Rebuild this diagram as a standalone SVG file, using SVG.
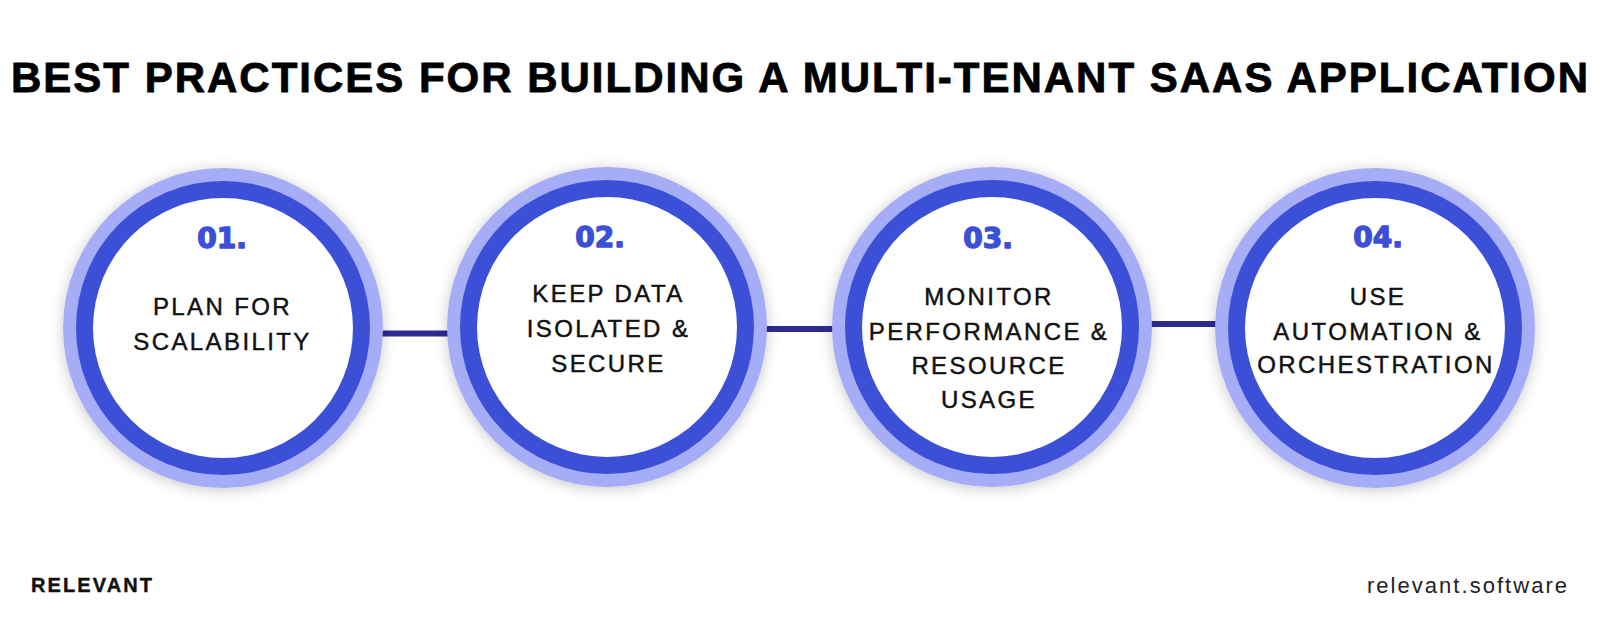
<svg xmlns="http://www.w3.org/2000/svg" width="1600" height="617" viewBox="0 0 1600 617">
  <defs>
    <filter id="shadow" x="-20%" y="-20%" width="140%" height="140%">
      <feGaussianBlur in="SourceAlpha" stdDeviation="7"/>
      <feOffset dx="0" dy="2" result="b"/>
      <feFlood flood-color="#000" flood-opacity="0.22"/>
      <feComposite in2="b" operator="in"/>
      <feMerge><feMergeNode/><feMergeNode in="SourceGraphic"/></feMerge>
    </filter>
    <style>
      .outer { fill: #a5adf6; }
      .ring { fill: #3c4fd7; }
      .inner { fill: #ffffff; }
      .num { font-family: "DejaVu Sans", "Liberation Sans", sans-serif; font-weight: 700; font-size: 28px; fill: #3c4fd7; text-anchor: middle; stroke: #3c4fd7; stroke-width: 1.4px; stroke-linejoin: round; }
      .lbl { font-family: "Liberation Sans", Arial, sans-serif; font-size: 24px; fill: #111111; text-anchor: middle; letter-spacing: 2.4px; stroke: #111111; stroke-width: 0.45px; }
      .title { font-family: "Liberation Sans", Arial, sans-serif; font-weight: 700; font-size: 42px; fill: #000000; stroke: #000000; stroke-width: 0.8px; }
      .conn { stroke: #2d2b8f; stroke-width: 6; fill: none; }
    </style>
  </defs>
  <rect width="1600" height="617" fill="#ffffff"/>

  <text class="title" x="11" y="92" textLength="1577" lengthAdjust="spacing">BEST PRACTICES FOR BUILDING A MULTI-TENANT SAAS APPLICATION</text>

  <g id="connectors">
    <line class="conn" x1="375" y1="333.5" x2="455" y2="333.5"/>
    <line class="conn" x1="760" y1="329" x2="840" y2="329"/>
    <line class="conn" x1="1144" y1="324" x2="1223" y2="324"/>
  </g>

  <g id="node1">
    <g filter="url(#shadow)"><circle class="outer" cx="223" cy="328" r="160"/></g>
    <circle class="ring" cx="223" cy="328" r="147"/>
    <circle class="inner" cx="223" cy="328" r="130"/>
    <text class="num" x="222" y="248">01.</text>
    <text class="lbl" x="222.5" y="315">PLAN FOR</text>
    <text class="lbl" x="222.5" y="350">SCALABILITY</text>
  </g>

  <g id="node2">
    <g filter="url(#shadow)"><circle class="outer" cx="607" cy="327" r="160"/></g>
    <circle class="ring" cx="607" cy="327" r="147"/>
    <circle class="inner" cx="607" cy="327" r="130"/>
    <text class="num" x="600" y="247">02.</text>
    <text class="lbl" x="608.5" y="302">KEEP DATA</text>
    <text class="lbl" x="608.5" y="337">ISOLATED &amp;</text>
    <text class="lbl" x="608.5" y="372">SECURE</text>
  </g>

  <g id="node3">
    <g filter="url(#shadow)"><circle class="outer" cx="992" cy="327" r="160"/></g>
    <circle class="ring" cx="992" cy="327" r="147"/>
    <circle class="inner" cx="992" cy="327" r="130"/>
    <text class="num" x="988" y="248">03.</text>
    <text class="lbl" x="989" y="305">MONITOR</text>
    <text class="lbl" x="989" y="340">PERFORMANCE &amp;</text>
    <text class="lbl" x="989" y="374">RESOURCE</text>
    <text class="lbl" x="989" y="408">USAGE</text>
  </g>

  <g id="node4">
    <g filter="url(#shadow)"><circle class="outer" cx="1375" cy="328" r="160"/></g>
    <circle class="ring" cx="1375" cy="328" r="147"/>
    <circle class="inner" cx="1375" cy="328" r="130"/>
    <text class="num" x="1378" y="247">04.</text>
    <text class="lbl" x="1378" y="305">USE</text>
    <text class="lbl" x="1378" y="340">AUTOMATION &amp;</text>
    <text class="lbl" x="1376" y="373">ORCHESTRATION</text>
  </g>

  <g id="footer">
    <text x="31" y="592" font-family="Liberation Sans, Arial, sans-serif" font-weight="700" font-size="20" fill="#111111" stroke="#111111" stroke-width="0.4" textLength="121" lengthAdjust="spacing">RELEVANT</text>
    <text x="1367" y="593" font-family="Liberation Sans, Arial, sans-serif" font-size="22" fill="#222222" textLength="200" lengthAdjust="spacing">relevant.software</text>
  </g>
</svg>
